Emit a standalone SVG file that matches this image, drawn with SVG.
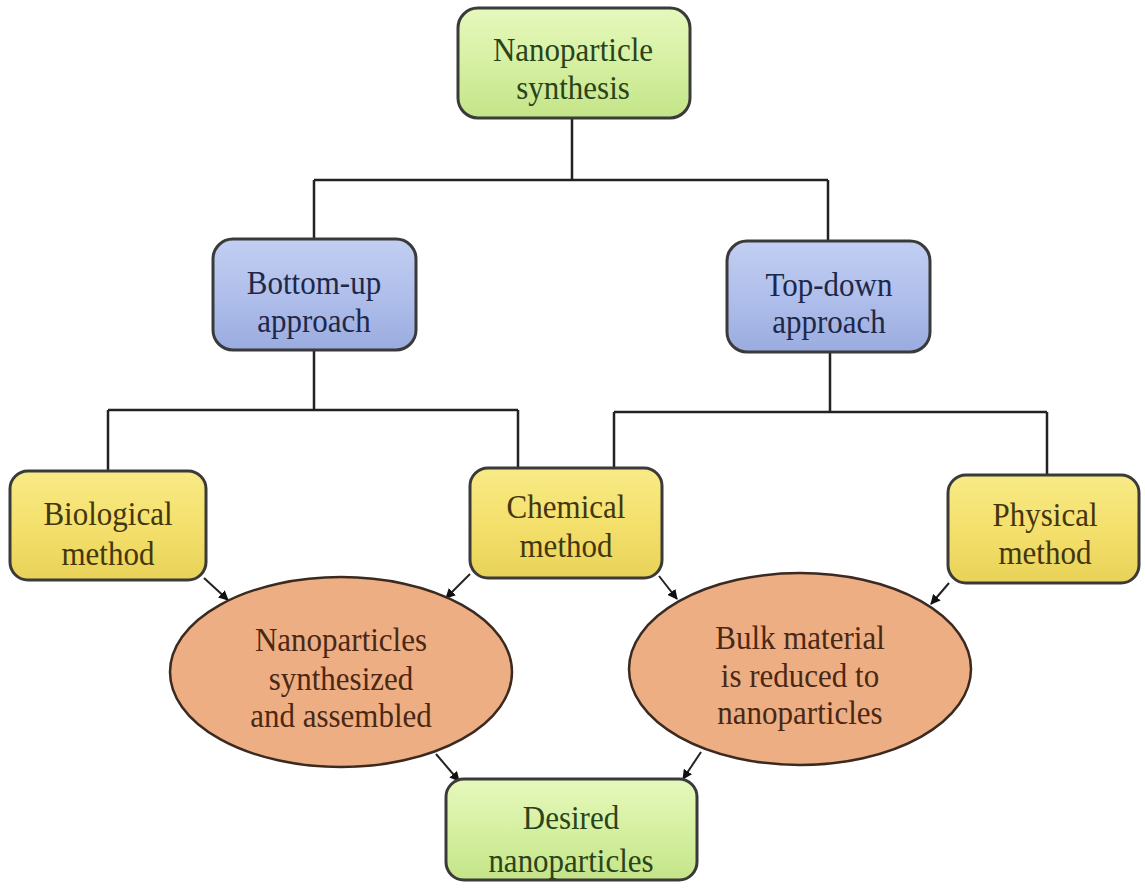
<svg xmlns="http://www.w3.org/2000/svg" width="1145" height="893" viewBox="0 0 1145 893">
<defs>
<linearGradient id="gG" x1="0" y1="0" x2="0" y2="1"><stop offset="0" stop-color="#e6f8bc"/><stop offset="0.5" stop-color="#d6f0a2"/><stop offset="1" stop-color="#c4e488"/></linearGradient>
<linearGradient id="gB" x1="0" y1="0" x2="0" y2="1"><stop offset="0" stop-color="#c2cff2"/><stop offset="0.5" stop-color="#b0bfeb"/><stop offset="1" stop-color="#9aabdf"/></linearGradient>
<linearGradient id="gY" x1="0" y1="0" x2="0" y2="1"><stop offset="0" stop-color="#f8ea86"/><stop offset="0.5" stop-color="#f4e06c"/><stop offset="1" stop-color="#e8d258"/></linearGradient>
<marker id="ar" viewBox="0 0 10 10" refX="9" refY="5" markerWidth="5" markerHeight="5" orient="auto"><path d="M0,0 L10,5 L0,10 z" fill="#111"/></marker>
</defs>
<style>
text{font-family:"Liberation Serif","Times New Roman",serif;font-size:31px;text-anchor:middle;transform-box:fill-box;transform-origin:center;transform:scaleY(1.1)}
.box{stroke:#3a3a3a;stroke-width:3}
.g{fill:url(#gG)}
.b{fill:url(#gB)}
.y{fill:url(#gY)}
.e{fill:#eeae84;stroke:#3a2a20;stroke-width:2.5}
.tg{fill:#2a441a}
.tb{fill:#1e2848}
.ty{fill:#44360e}
.te{fill:#4a2814}
.ln{fill:none;stroke:#222;stroke-width:2.5}
.arr{fill:none;stroke:#222;stroke-width:2;marker-end:url(#ar)}
</style>
<rect width="1145" height="893" fill="#ffffff"/>
<g id="connectors">
<path class="ln" d="M572,118 V180 M314,180 H828 M314,180 V240 M828,180 V241"/>
<path class="ln" d="M314,350 V410 M108,410 H518 M108,410 V471 M518,410 V468"/>
<path class="ln" d="M830,352 V412 M614,412 H1047 M614,412 V468 M1047,412 V475"/>
<line class="arr" x1="204" y1="578" x2="228" y2="600"/>
<line class="arr" x1="470" y1="574" x2="446" y2="598"/>
<line class="arr" x1="659" y1="576" x2="677" y2="599"/>
<line class="arr" x1="949" y1="583" x2="931" y2="604"/>
<line class="arr" x1="436" y1="754" x2="459" y2="781"/>
<line class="arr" x1="701" y1="752" x2="683" y2="779"/>
</g>
<g id="n-synthesis">
<rect class="box g" x="458" y="8" width="232" height="110" rx="20"/>
<text class="tg" x="573" y="60">Nanoparticle</text>
<text class="tg" x="573" y="98">synthesis</text>
</g>
<g id="n-bottomup">
<rect class="box b" x="213" y="239" width="203" height="111" rx="20"/>
<text class="tb" x="314" y="293">Bottom-up</text>
<text class="tb" x="314" y="331">approach</text>
</g>
<g id="n-topdown">
<rect class="box b" x="727" y="241" width="203" height="111" rx="20"/>
<text class="tb" x="829" y="295">Top-down</text>
<text class="tb" x="829" y="332">approach</text>
</g>
<g id="n-biological">
<rect class="box y" x="10" y="471" width="196" height="109" rx="18"/>
<text class="ty" x="108" y="524">Biological</text>
<text class="ty" x="108" y="564">method</text>
</g>
<g id="n-chemical">
<rect class="box y" x="470" y="468" width="192" height="110" rx="18"/>
<text class="ty" x="566" y="517">Chemical</text>
<text class="ty" x="566" y="556">method</text>
</g>
<g id="n-physical">
<rect class="box y" x="948" y="475" width="191" height="108" rx="18"/>
<text class="ty" x="1045" y="525">Physical</text>
<text class="ty" x="1045" y="563">method</text>
</g>
<g id="n-assembled">
<ellipse class="e" cx="341" cy="672" rx="171" ry="95"/>
<text class="te" x="341" y="650">Nanoparticles</text>
<text class="te" x="341" y="689">synthesized</text>
<text class="te" x="341" y="726">and assembled</text>
</g>
<g id="n-reduced">
<ellipse class="e" cx="800" cy="669" rx="171" ry="96"/>
<text class="te" x="800" y="648">Bulk material</text>
<text class="te" x="800" y="686">is reduced to</text>
<text class="te" x="800" y="723">nanoparticles</text>
</g>
<g id="n-desired">
<rect class="box g" x="446" y="779" width="251" height="101" rx="18"/>
<text class="tg" x="571" y="828">Desired</text>
<text class="tg" x="571" y="871">nanoparticles</text>
</g>
</svg>
